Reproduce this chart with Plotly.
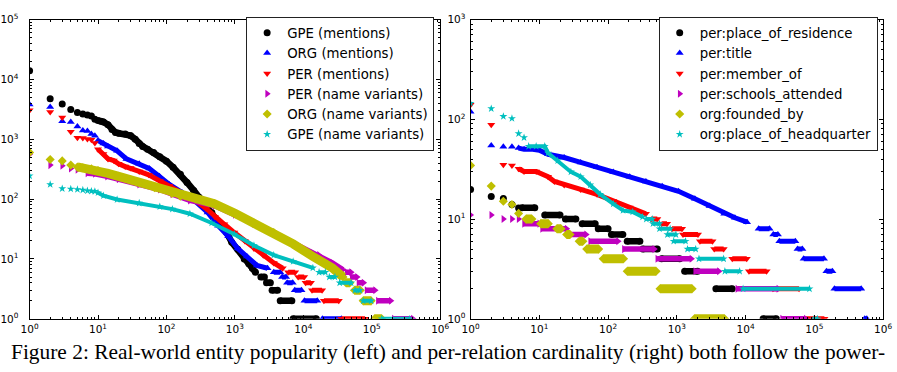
import plotly.graph_objects as go

# ---------------- LEFT PANEL: entity popularity (rank vs count) ----------------
gpe_m_rank = [1, 2, 3, 4, 5, 6, 7, 8, 9, 10, 11, 12, 14, 16, 18, 20, 25, 30, 35, 40, 45, 53, 65, 80, 100, 125, 160, 200, 250, 300, 380, 460, 600, 750, 900, 1100, 1370, 1600, 1800, 2000]
gpe_m_val = [14000, 4750, 3900, 3150, 2800, 2650, 2550, 2450, 2150, 2050, 2000, 1950, 1750, 1450, 1300, 1260, 1220, 1150, 1000, 850, 760, 680, 600, 510, 430, 340, 260, 190, 140, 108, 78, 60, 40, 28, 19, 14.5, 10, 8.3, 7, 6]
gpe_m_step_val = [5, 4, 3, 2, 1]
gpe_m_step_from = [2400, 2900, 3500, 4600, 7100]
gpe_m_step_to = [2700, 3300, 4200, 6800, 15500]

org_m_rank = [1, 2, 3, 4, 5, 6, 7, 8, 9, 10, 12, 14, 19, 26, 40, 56, 79, 110, 170, 265, 400, 570, 800, 1100, 1500, 2100, 3000]
org_m_val = [3800, 3450, 2000, 1950, 1640, 1400, 1380, 1220, 1150, 950, 850, 760, 640, 470, 390, 325, 240, 176, 128, 92, 60, 36, 24, 15, 11, 7.8, 7]
org_m_step_val = [6, 5, 4, 3, 2, 1]
org_m_step_from = [3700, 4900, 5800, 7500, 10400, 19000]
org_m_step_to = [4600, 5600, 7000, 9400, 16000, 36000]

per_m_rank = [1, 2, 3, 4, 5, 6, 7, 8, 9, 10, 12, 14, 17, 20, 25, 30, 40, 55, 80, 110, 170, 263, 380, 510, 700, 980, 1400, 1900, 2600, 3700, 5000]
per_m_val = [3050, 2850, 2300, 1340, 1060, 1050, 1010, 980, 870, 680, 570, 470, 440, 390, 350, 330, 290, 255, 200, 165, 121, 95, 70, 51, 38, 27.6, 20, 14.9, 11.5, 8.6, 7]
per_m_step_val = [6, 5, 4, 3, 2, 1]
per_m_step_from = [6000, 8400, 10800, 13400, 20000, 36000]
per_m_step_to = [7600, 10300, 12900, 18800, 33000, 80000]

per_nv_rank = [1, 2, 3, 4, 5, 7, 9, 13.6, 20, 40, 80, 122, 220, 500, 1000, 1900, 3700, 7100, 13800, 17000, 26500, 38000]
per_nv_val = [560, 370, 360, 325, 310, 270, 265, 240, 215, 176, 145, 121, 95, 78, 55, 39, 27.5, 18.5, 12.5, 11.6, 8.6, 6.6]
per_nv_step_val = [6, 5, 4, 3, 2, 1]
per_nv_step_from = [43000, 51000, 64000, 84000, 123000, 210000]
per_nv_step_to = [50000, 61000, 76000, 112000, 190000, 400000]

org_nv_rank = [1, 2, 3, 4, 5, 6, 8, 10, 14, 20, 30, 40, 67, 120, 160, 270, 500, 1000, 1900, 3700, 7100, 13800, 26500, 38000]
org_nv_val = [600, 460, 435, 370, 345, 335, 320, 300, 270, 240, 210, 186, 155, 125, 112, 100, 84, 58, 40, 27.6, 17.9, 11, 7.1, 5]
org_nv_step_val = [4, 3, 2, 1]
org_nv_step_from = [42000, 56000, 75000, 110000]
org_nv_step_to = [48000, 68000, 98000, 140000]

gpe_nv_rank = [1, 2, 3, 4, 5, 6, 7, 8, 9, 10, 12, 19, 40, 80, 122, 220, 458, 980, 1900, 3700, 7100, 13800]
gpe_nv_val = [245, 176, 150, 148, 145, 142, 138, 136, 135, 128, 114, 98.5, 86, 75, 68, 57, 40, 26, 16.8, 11.6, 9.1, 7.1]
gpe_nv_step_val = [6, 5, 4, 3, 2, 1]
gpe_nv_step_from = [17000, 24000, 34000, 57000, 75000, 140000]
gpe_nv_step_to = [21000, 29000, 50000, 67000, 98000, 360000]

# ---------------- RIGHT PANEL: per-relation cardinality ----------------
res_rank = [1, 2, 3, 4, 5]
res_val = [19.8, 16.8, 16.1, 14, 12.9]
res_step_val = [13, 11, 10, 9, 8, 7, 6, 5, 4, 3, 2, 1]
res_step_from = [5.6, 12, 24, 42, 72, 112, 190, 320, 600, 1300, 3700, 18000]
res_step_to = [8.6, 20, 34, 65, 100, 164, 290, 520, 1100, 2000, 6400, 28000]

title_rank = [1, 2, 3, 4, 5, 6, 8, 10, 13.4, 23, 40, 69, 119, 206, 355, 613, 1060, 1830, 3000, 4900, 7000, 10500]
title_val = [119, 54.5, 53, 53, 51.5, 50, 50, 49, 44.6, 41.4, 37, 33, 29.7, 26.6, 23.8, 21.3, 19, 16, 13.5, 11.3, 10.3, 9.3]
title_step_val = [8, 7, 6, 5, 4, 3, 2, 1]
title_step_from = [15500, 25300, 31000, 57000, 70000, 150000, 196000, 540000]
title_step_to = [22300, 29500, 53000, 67000, 138000, 183000, 480000, 580000]

member_rank = [1, 2, 3, 4, 5, 6, 9, 13.4, 16.6, 23, 40, 69, 119, 206, 355]
member_val = [140, 88, 35, 34.5, 32, 30, 30, 26.6, 23.8, 22, 19.8, 17.7, 15.2, 13.1, 11.3]
member_step_val = [10, 9, 8, 7, 6, 5, 4, 3, 2, 1]
member_step_from = [420, 600, 850, 1230, 2170, 3500, 6400, 11200, 25000, 70000]
member_step_to = [520, 720, 1190, 2030, 3300, 4800, 10400, 20200, 60000, 140000]

school_rank = [1, 2, 3, 4, 5]
school_val = [11, 11, 10, 10, 10]
school_step_val = [9, 8, 7, 6, 5, 4, 3, 2, 1]
school_step_from = [6, 11, 28, 55, 170, 520, 1850, 7600, 34000]
school_step_to = [10, 25, 48, 140, 470, 1630, 4100, 30000, 75000]

founded_rank = [1, 2, 3, 4, 5]
founded_val = [34.5, 21.4, 15.1, 14, 11.4]
founded_step_val = [10, 9, 8, 7, 6, 5, 4, 3, 2, 1]
founded_step_from = [6.4, 10.5, 18, 25, 38, 49, 85, 190, 570, 1800]
founded_step_to = [7.8, 13.5, 20.7, 28, 43, 73, 168, 500, 1670, 4950]

hq_rank = [1, 2, 3, 4, 5, 6, 7, 9, 12, 13.4, 18.5, 28.8, 40, 55, 77, 119, 165, 228, 318]
hq_val = [145, 128, 107, 102, 72, 65.6, 53.7, 53.7, 53.7, 46, 38.5, 29.7, 26.6, 22, 17.7, 14.2, 12.2, 11.8, 10.5]
hq_step_val = [10, 9, 8, 7, 6, 5, 4, 3, 2, 1]
hq_step_from = [360, 450, 560, 730, 900, 1430, 2100, 5000, 9200, 99000]
hq_step_to = [440, 560, 800, 970, 1340, 1880, 4800, 8200, 85000, 111000]

tick_vals = [1, 10, 100, 1000, 10000, 100000, 1000000]
tick_text = ["10<sup>%d</sup>" % i for i in range(7)]

K, B, R, M, Y, C = "#000000", "#0000ff", "#ff0000", "#bf00bf", "#bfbf00", "#00bfbf"

fig = go.Figure()


def add_series(axis, legend, name, rank, val, sv, sf, st, color, symbol, size, lw, band_from):
    xa, ya = ("x", "y") if axis == 1 else ("x2", "y2")
    bx, by = [], []
    for r, v in zip(rank, val):
        if r >= band_from:
            bx.append(r)
            by.append(v)
    bx.append(None)
    by.append(None)
    for v, a, b in zip(sv, sf, st):
        bx += [a, b, None]
        by += [v, v, None]
    fig.add_trace(go.Scatter(x=bx, y=by, mode="lines", xaxis=xa, yaxis=ya,
                             line=dict(color=color, width=lw), showlegend=False,
                             hoverinfo="skip"))
    mx = list(rank) + list(sf) + list(st)
    my = list(val) + list(sv) + list(sv)
    fig.add_trace(go.Scatter(x=mx, y=my, mode="markers", xaxis=xa, yaxis=ya, name=name,
                             legend=legend,
                             marker=dict(symbol=symbol, color=color, size=size,
                                         line=dict(width=0))))


add_series(1, "legend", "GPE (mentions)", gpe_m_rank, gpe_m_val, gpe_m_step_val, gpe_m_step_from, gpe_m_step_to, K, "circle", 7, 6.5, 10)
add_series(1, "legend", "ORG (mentions)", org_m_rank, org_m_val, org_m_step_val, org_m_step_from, org_m_step_to, B, "triangle-up", 7, 5, 10)
add_series(1, "legend", "PER (mentions)", per_m_rank, per_m_val, per_m_step_val, per_m_step_from, per_m_step_to, R, "triangle-down", 7, 5, 10)
add_series(1, "legend", "PER (name variants)", per_nv_rank, per_nv_val, per_nv_step_val, per_nv_step_from, per_nv_step_to, M, "triangle-right", 7, 5.5, 7)
add_series(1, "legend", "ORG (name variants)", org_nv_rank, org_nv_val, org_nv_step_val, org_nv_step_from, org_nv_step_to, Y, "diamond", 7, 9, 5)
add_series(1, "legend", "GPE (name variants)", gpe_nv_rank, gpe_nv_val, gpe_nv_step_val, gpe_nv_step_from, gpe_nv_step_to, C, "star", 6, 4, 10)

add_series(2, "legend2", "per:place_of_residence", res_rank, res_val, res_step_val, res_step_from, res_step_to, K, "circle", 7, 6.5, 1e9)
add_series(2, "legend2", "per:title", title_rank, title_val, title_step_val, title_step_from, title_step_to, B, "triangle-up", 7, 5, 5)
add_series(2, "legend2", "per:member_of", member_rank, member_val, member_step_val, member_step_from, member_step_to, R, "triangle-down", 7, 5, 5)
add_series(2, "legend2", "per:schools_attended", school_rank, school_val, school_step_val, school_step_from, school_step_to, M, "triangle-right", 7, 5.5, 1e9)
add_series(2, "legend2", "org:founded_by", founded_rank, founded_val, founded_step_val, founded_step_from, founded_step_to, Y, "diamond", 7, 9, 1e9)
add_series(2, "legend2", "org:place_of_headquarter", hq_rank, hq_val, hq_step_val, hq_step_from, hq_step_to, C, "star", 6, 4, 7)

minor_vals = [m * 10 ** e for e in range(7) for m in range(2, 10)]


def axis(domain, rng, anchor, vals, text, standoff):
    return dict(type="log", domain=domain, range=rng, anchor=anchor,
                showline=True, linecolor="black", linewidth=1, mirror="ticks",
                ticks="inside", ticklen=4, tickcolor="black", tickwidth=1,
                tickvals=vals, ticktext=text, showgrid=False, zeroline=False,
                ticklabelstandoff=standoff,
                tickfont=dict(family="DejaVu Sans", size=10.5, color="black"),
                minor=dict(ticks="inside", ticklen=2, tickcolor="black",
                           tickvals=minor_vals, showgrid=False))


H = 372.0
W = 897.0
ydom = [(H - 323) / H, (H - 12) / H]
legfont = dict(family="DejaVu Sans", size=13.3, color="black")
fig.update_layout(
    width=897, height=372, margin=dict(l=0, r=0, t=0, b=0),
    paper_bgcolor="white", plot_bgcolor="white",
    xaxis=axis([21 / W, 440 / W], [0, 6], "y", tick_vals, tick_text, 1),
    yaxis=axis(ydom, [0, 5], "x", tick_vals[:6], tick_text[:6], 8),
    xaxis2=axis([471 / W, 892 / W], [0, 6], "y2", tick_vals, tick_text, 1),
    yaxis2=axis(ydom, [0, 3], "x2", tick_vals[:4], tick_text[:4], 2),
    legend=dict(x=242 / W, y=1 - 9 / H, xanchor="left", yanchor="top",
                bgcolor="white", bordercolor="#222", borderwidth=1, font=legfont),
    legend2=dict(x=663 / W, y=1 - 9 / H, xanchor="left", yanchor="top",
                 bgcolor="white", bordercolor="#222", borderwidth=1, font=legfont),
    annotations=[dict(text="Figure 2: Real-world entity popularity (left) and per-relation cardinality (right) both follow the power-",
                      x=0, y=(H - 357) / H, xref="paper", yref="paper", xanchor="left",
                      yanchor="middle", showarrow=False,
                      font=dict(family="Liberation Serif", size=21.4, color="black"))],
)

fig.write_html("out.html")
